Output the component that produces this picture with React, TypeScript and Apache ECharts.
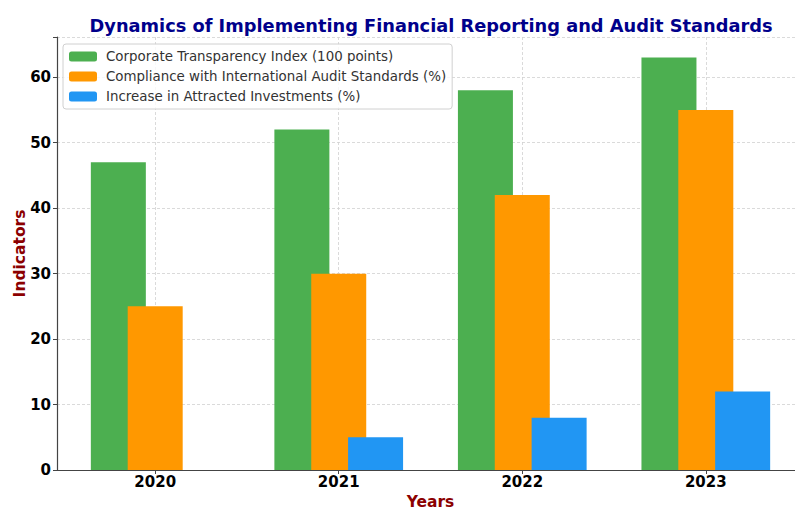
import React, { useEffect, useRef } from "react";
import * as echarts from "echarts";

const years = ["2020", "2021", "2022", "2023"];
const transparency = [47, 52, 58, 63];
const compliance = [25, 30, 42, 55];
const investments = [0, 5, 8, 12];
const seriesNames = [
  "Corporate Transparency Index (100 points)",
  "Compliance with International Audit Standards (%)",
  "Increase in Attracted Investments (%)",
];
const yTicks = [0, 10, 20, 30, 40, 50, 60];

const FONT = "DejaVu Sans";

export default function App() {
  const ref = useRef<HTMLDivElement>(null);
  useEffect(() => {
    if (!ref.current) return;
    const chart = echarts.init(ref.current, undefined, { renderer: "svg" });
    const idx = years.map((_, i) => i);
    const toPairs = (arr: number[]) => arr.map((v, i) => [i, v]);
    const grid = { lineStyle: { color: "#d0d0d0", type: [3, 2] as any, width: 0.8 } };
    chart.setOption({
      animation: false,
      title: {
        text: "Dynamics of Implementing Financial Reporting and Audit Standards",
        left: 426,
        textAlign: "center",
        top: 11,
        textStyle: { fontFamily: FONT, fontWeight: "bold", fontSize: 17.8, color: "#00008B" },
      },
      legend: {
        orient: "vertical",
        left: 63,
        top: 44,
        padding: [5, 6, 5, 6],
        itemWidth: 28,
        itemHeight: 10,
        itemGap: 5,
        backgroundColor: "rgba(255,255,255,0.8)",
        borderColor: "#d0d0d0",
        borderWidth: 1,
        borderRadius: 3,
        textStyle: { fontFamily: FONT, fontSize: 13.4, color: "#333", lineHeight: 15, padding: [0, 0, 0, 4] },
        data: seriesNames,
      },
      grid: { left: 57, width: 747, top: 37, bottom: 41, outerBoundsMode: "none", containLabel: false },
      xAxis: {
        type: "value",
        min: -0.535,
        max: 3.535,
        name: "Years",
        nameLocation: "middle",
        nameGap: 24,
        nameTextStyle: { fontFamily: FONT, fontWeight: "bold", fontSize: 15.5, color: "#8B0000" },
        axisLine: { onZero: false, lineStyle: { color: "#444", width: 1.2 } },
        axisTick: { show: true, customValues: idx, length: 4, lineStyle: { color: "#444" } },
        axisLabel: {
          customValues: idx,
          formatter: (v: number) => years[Math.round(v)] ?? "",
          fontFamily: FONT,
          fontWeight: "bold",
          fontSize: 15,
          color: "#000",
          margin: 4,
        },
        splitLine: { show: true, ...grid },
      },
      yAxis: {
        type: "value",
        min: 0,
        max: 66.15,
        interval: 10,
        name: "Indicators",
        nameLocation: "middle",
        nameRotate: 90,
        nameGap: 29,
        nameMoveOverlap: false,
        nameTextStyle: { fontFamily: FONT, fontWeight: "bold", fontSize: 15.5, color: "#8B0000" },
        axisLine: { show: true, onZero: false, lineStyle: { color: "#444", width: 1.2 } },
        axisTick: { show: true, length: 4, lineStyle: { color: "#444" } },
        axisLabel: {
          customValues: yTicks,
          fontFamily: FONT,
          fontWeight: "bold",
          fontSize: 15,
          color: "#000",
          margin: 6,
        },
        splitLine: { show: true, ...grid },
      },
      series: [
        { name: seriesNames[0], type: "bar", data: toPairs(transparency), itemStyle: { color: "#4CAF50" } },
        { name: seriesNames[1], type: "bar", data: toPairs(compliance), itemStyle: { color: "#FF9800" } },
        { name: seriesNames[2], type: "bar", data: toPairs(investments), itemStyle: { color: "#2196F3" } },
      ].map((s) => ({ ...s, barWidth: 55, barGap: "-33%" })),
    });
    return () => chart.dispose();
  }, []);
  return <div ref={ref} style={{ width: 795, height: 511, position: "absolute", left: 0, top: 0 }} />;
}
